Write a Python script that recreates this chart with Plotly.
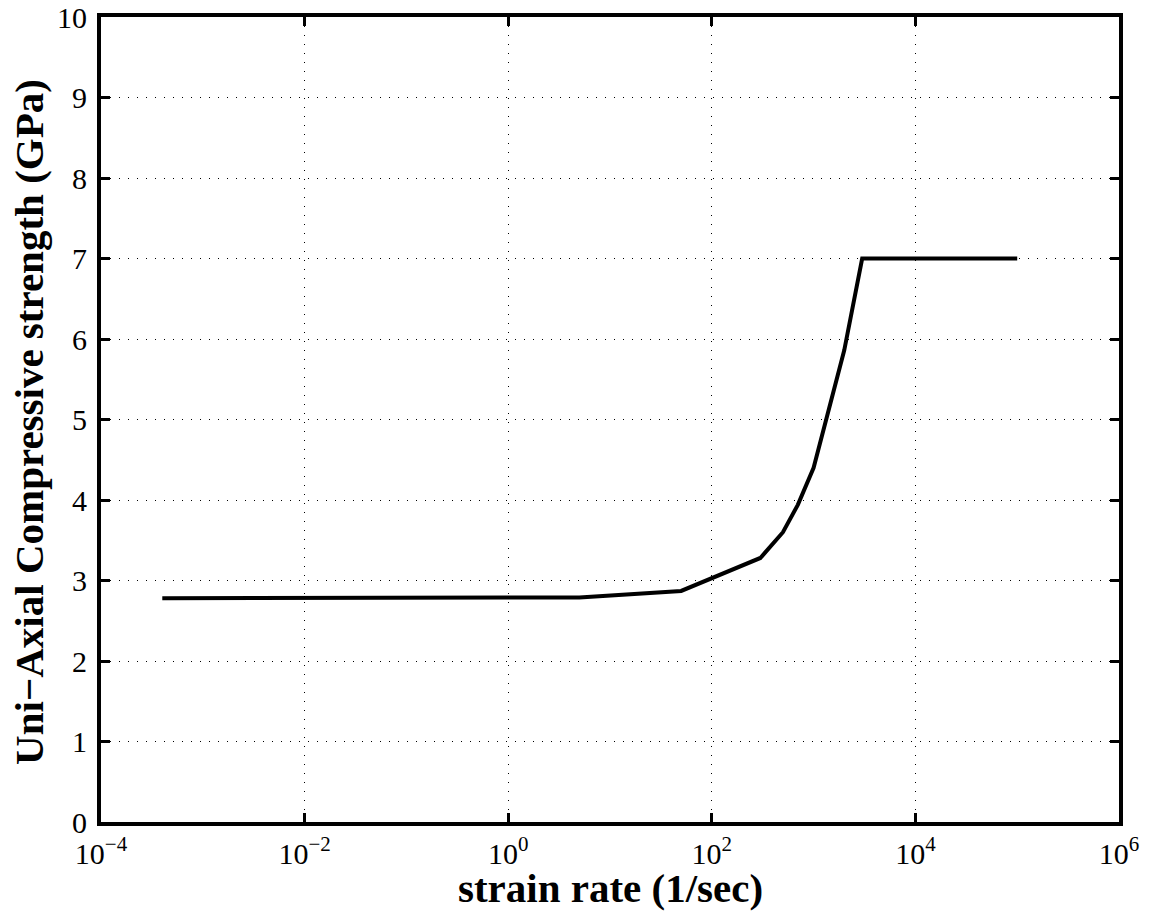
import plotly.graph_objects as go

strain_rate = [4e-4, 1, 5, 50, 300, 500, 700, 1000, 2000, 3000, 1e5]
strength = [2.78, 2.78, 2.79, 2.87, 3.28, 3.60, 3.94, 4.40, 5.86, 7.00, 7.00]

x_tickvals = [1e-4, 1e-2, 1, 1e2, 1e4, 1e6]
x_ticktext = ["10<sup>−4</sup>", "10<sup>−2</sup>", "10<sup>0</sup>", "10<sup>2</sup>", "10<sup>4</sup>", "10<sup>6</sup>"]
y_tickvals = list(range(0, 11))
x_title = "<b>strain rate (1/sec)</b>"
y_title = "<b>Uni−Axial Compressive strength (GPa)</b>"

fig = go.Figure()
fig.add_trace(go.Scatter(x=strain_rate, y=strength, mode="lines",
                         line=dict(color="black", width=4), showlegend=False))

font_family = "Liberation Serif, Times New Roman, serif"
W, H = 1153, 915
ML, MR, MT, MB = 101, 34, 17, 93
pw, ph = W - ML - MR, H - MT - MB

fig.update_layout(
    width=W, height=H,
    margin=dict(l=ML, r=MR, t=MT, b=MB, autoexpand=False),
    paper_bgcolor="white", plot_bgcolor="white",
    font=dict(family=font_family, color="black", size=30),
)
common = dict(
    ticks="inside", ticklen=9, tickwidth=3, tickcolor="black",
    showline=True, linewidth=4, linecolor="black", mirror="allticks",
    showgrid=True, gridcolor="black", gridwidth=1, griddash="1px,8px",
    zeroline=False, automargin=False,
    tickfont=dict(size=30, family=font_family, color="black"),
)
fig.update_xaxes(type="log", range=[-4, 6], tickvals=x_tickvals, ticktext=x_ticktext,
                 ticklabelstandoff=2, **common)
fig.update_yaxes(range=[0, 10], tickvals=y_tickvals, ticklabelstandoff=4, **common)

fig.add_annotation(text=x_title, xref="paper", yref="paper", x=0.5, y=-66 / ph,
                   xanchor="center", yanchor="middle", showarrow=False,
                   font=dict(size=41, family=font_family, color="black"))
fig.add_annotation(text=y_title, xref="paper", yref="paper", x=-72 / pw, y=0.497,
                   xanchor="center", yanchor="middle", textangle=-90, showarrow=False,
                   font=dict(size=41, family=font_family, color="black"))

fig.write_html("out.html", config={"displayModeBar": False},
               post_script="document.body.style.margin='0';document.body.style.padding='0';")
